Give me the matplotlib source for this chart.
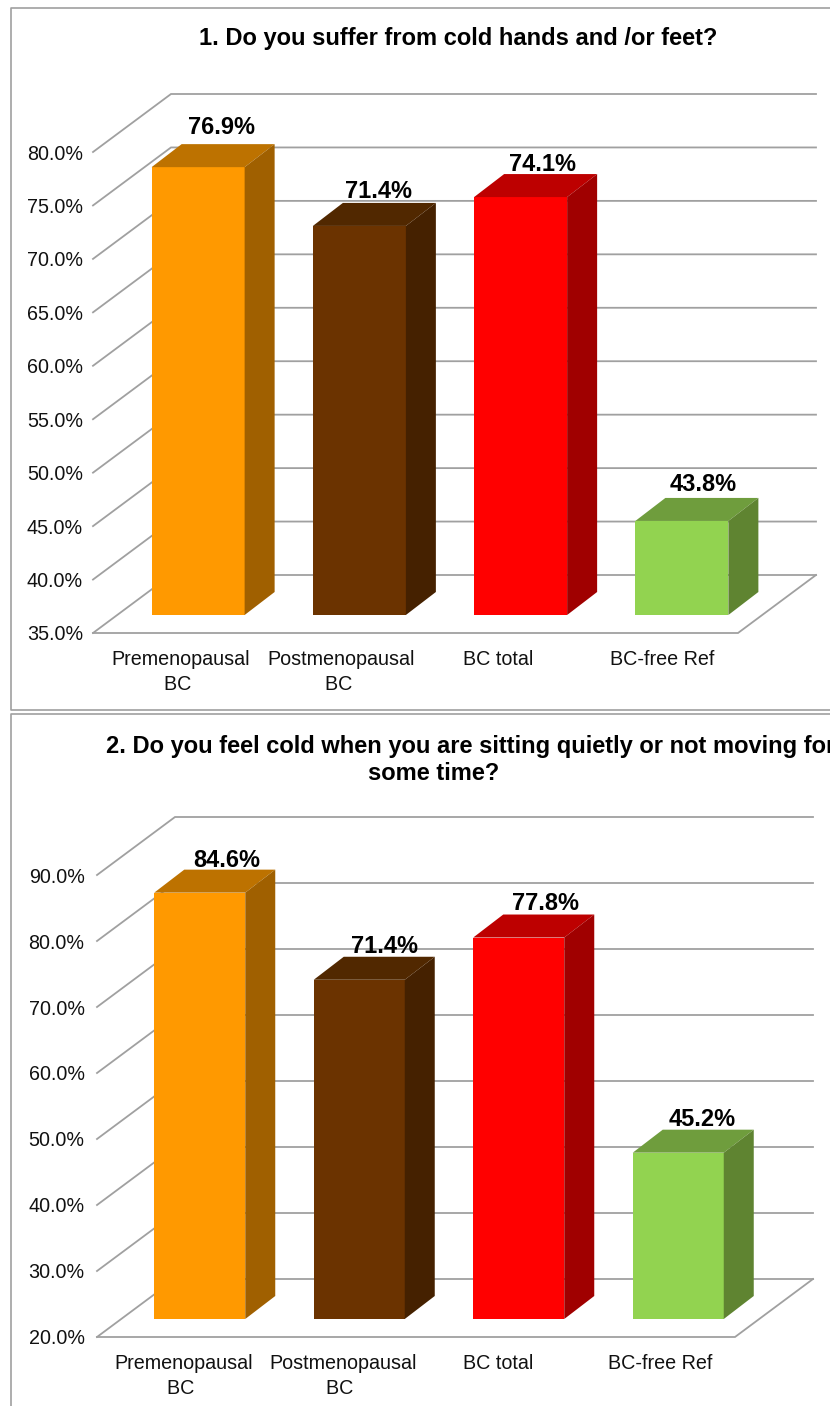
# plot.py
# Two fake-3D bar charts of cold symptoms, stacked on one page.

import matplotlib
matplotlib.use('Agg')
import matplotlib.pyplot as plt
from matplotlib.lines import Line2D
from matplotlib.patches import Polygon
from matplotlib.transforms import ScaledTranslation

plt.rcParams['font.family'] = ['Liberation Sans', 'DejaVu Sans']

# data
categories = ['Premenopausal\nBC ', 'Postmenopausal\nBC ', 'BC total', 'BC-free Ref']
title1 = '1. Do you suffer from cold hands and /or feet?'
title2a = '2. Do you feel cold when you are sitting quietly or not moving for'
title2b = 'some time?'
values1 = [76.9, 71.4, 74.1, 43.8]
values2 = [84.6, 71.4, 77.8, 45.2]
ticks1 = [35, 40, 45, 50, 55, 60, 65, 70, 75, 80]
ticks2 = [20, 30, 40, 50, 60, 70, 80, 90]

# colours: front, top, side
front_colors = ['#FF9900', '#6B3300', '#FF0000', '#92D350']
top_colors = ['#BD7200', '#512800', '#BD0000', '#6F9D3D']
side_colors = ['#A06000', '#452100', '#A00000', '#5F8431']

W = 830
H = 1406
GRID = '#a0a0a0'
FRAME = '#a0a0a0'

# nudges in pixels
xlab_nudge = [7, 6.5, 2, 4.5]
label_off1 = [(23, 40), (19, 34), (22, 33), (21, 36)]
label_off2 = [(26.5, 32), (25, 33), (27, 34), (24, 33)]

fig = plt.figure(figsize=(W / 100, H / 100), dpi=100)
fig.patch.set_facecolor('white')


def frame(top, bottom, closed):
    # panel border, runs off the right edge of the page
    xs = [W + 5, 10.5, 10.5]
    ys = [top, top, bottom]
    if closed:
        xs.append(W + 5)
        ys.append(bottom)
    fig.add_artist(Line2D([x / W for x in xs], [1 - y / H for y in ys],
                          color=FRAME, lw=1.2))


def panel(left, right, floor, top, ticks, values, label_off, bar_dx, bar_half, bar_dy, ypad):
    ax = fig.add_axes([left / W, 1 - floor / H, (right - left) / W, (floor - top) / H])
    ax.set_xlim(-0.5, 3.5)
    ax.set_ylim(ticks[0], ticks[-1])
    ax.patch.set_alpha(0)
    for s in ax.spines.values():
        s.set_visible(False)

    # pixels to data units
    xunit = (right - left) / 4.0
    yunit = (floor - top) / float(ticks[-1] - ticks[0])

    wall_dx = 78 / xunit
    wall_dy = 58 / yunit
    base_dx = bar_dx / xunit     # bars stand a bit inside the floor
    base_dy = bar_dy / yunit
    depth_dx = 30 / xunit
    depth_dy = 23 / yunit
    half = bar_half / xunit

    # side wall and back wall lines
    for t in ticks:
        ax.plot([-0.5, -0.5 + wall_dx, 3.5 + wall_dx], [t, t + wall_dy, t + wall_dy],
                color=GRID, lw=1.3, clip_on=False, zorder=1, solid_joinstyle='miter')
    # floor
    y0 = ticks[0]
    ax.plot([-0.5, 3.5, 3.5 + wall_dx], [y0, y0, y0 + wall_dy],
            color=GRID, lw=1.3, clip_on=False, zorder=1, solid_joinstyle='miter')

    for i, v in enumerate(values):
        x0 = i - half + base_dx
        x1 = i + half + base_dx
        b = y0 + base_dy
        t = v + base_dy
        ax.add_patch(Polygon([(x0, b), (x1, b), (x1, t), (x0, t)],
                             fc=front_colors[i], ec='none', clip_on=False, zorder=3))
        ax.add_patch(Polygon([(x0, t), (x1, t), (x1 + depth_dx, t + depth_dy), (x0 + depth_dx, t + depth_dy)],
                             fc=top_colors[i], ec='none', clip_on=False, zorder=3))
        ax.add_patch(Polygon([(x1, b), (x1 + depth_dx, b + depth_dy), (x1 + depth_dx, t + depth_dy), (x1, t)],
                             fc=side_colors[i], ec='none', clip_on=False, zorder=3))
        ax.annotate('%.1f%%' % v, xy=(i + base_dx, t), xytext=label_off[i],
                    textcoords='offset pixels', ha='center', va='center',
                    fontsize=17, fontweight='bold', color='black', zorder=4,
                    annotation_clip=False)

    ax.set_yticks(ticks)
    ax.set_yticklabels(['%.1f%%' % t for t in ticks], fontsize=14.2, color='#111111')
    ax.tick_params(axis='y', length=0, pad=ypad)
    ax.set_xticks(range(4))
    ax.set_xticklabels(categories, fontsize=14.2, color='#111111', linespacing=1.4)
    ax.tick_params(axis='x', length=0, pad=12)
    for lab, n in zip(ax.get_xticklabels(), xlab_nudge):
        lab.set_transform(lab.get_transform() + ScaledTranslation(n / 100.0, 0, fig.dpi_scale_trans))


frame(8, 710, True)
frame(714, H + 5, False)

panel(93, 738, 633, 152, ticks1, values1, label_off1, 24.5, 46.5, 18, 7.2)
panel(97, 735, 1337, 875, ticks2, values2, label_off2, 23, 45.5, 18, 9)

# titles
fig.text(458 / W, 1 - 39 / H, title1, ha='center', va='center',
         fontsize=17, fontweight='bold', color='black')
fig.text(106 / W, 1 - 746 / H, title2a, ha='left', va='center',
         fontsize=17, fontweight='bold', color='black')
fig.text(434 / W, 1 - 774 / H, title2b, ha='center', va='center',
         fontsize=17, fontweight='bold', color='black')

plt.savefig('out.png', dpi=100)
